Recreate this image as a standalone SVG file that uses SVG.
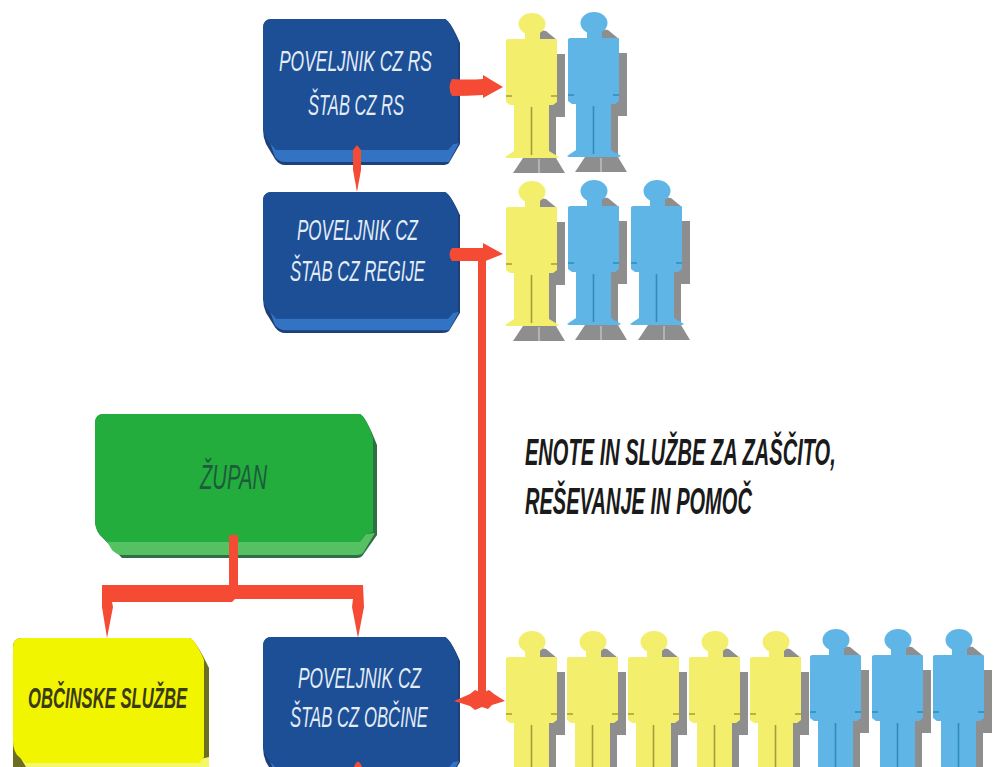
<svg xmlns="http://www.w3.org/2000/svg" width="998" height="767" viewBox="0 0 998 767">
<style>
text{font-family:"Liberation Sans",Arial,sans-serif;font-style:italic;text-anchor:start}
.w{fill:#e4ecf7;font-size:29px}
.t{fill:#1a1a1a;font-size:37px;font-weight:bold}
.b1{fill:#1c4f96}.b2{fill:#3273c4}.b3{fill:#1f3f78}
.g1{fill:#22ad3c}.g2{fill:#56c163}.g3{fill:#2f6f44}
.l1{fill:#f2f500}.l2{fill:#f4f76a}.l3{fill:#6e6e20}
.y{fill:#f3ee6c;color:#a89c3a}
.c{fill:#5fb5e6;color:#2f8db8}
.s{fill:#8e8e8e}
.m{fill:none;stroke:currentColor;stroke-width:1.6}
.v{fill:none;stroke:#d8d8d8;stroke-width:1}
.r{fill:#f54b35}
</style>
<defs>
<g id="fig">
<path class="s" d="M33,-9 L40,-8 L51,1 H34Z M45,15 H59 V78 H50 V118 H43 V15Z M17,119 H50 L59,134 H7Z"/>
<path class="v" d="M33,120 V134"/>
<path d="M0,1 L2,0 H19 V-8 H34 V0 H50 L51,1 V63 L47,66 H43 V112 L53,118 L51,119 H1 L-1,118 L8,112 V66 H4 L0,63Z"/>
<ellipse cx="26" cy="-15" rx="13.500" ry="11"/>
<path class="m" d="M0,57 H6 M45,57 H51 M25.500,68 V116"/>
</g>
<path id="boxBack" d="M272,0 H445 Q451,3 460,24 V125 L449,144 Q447,146 442,146 H285 Q279,146 275,140 L266,125 Q263,118 263,110 V9 Q263,0 272,0Z"/>
<path id="boxBevel" d="M268,118 L276,131 H448 L453,125 L459,124 L449,143 H285 Q279,143 275,138Z"/>
<path id="boxFace" d="M272,0 H445 Q451,3 458,22 V124 L453,125 L448,131 H276 L268,122 Q263,116 263,106 V9 Q263,0 272,0Z"/>
</defs>

<g id="node-rs">
<use href="#boxBack" y="19" class="b3"/><use href="#boxBevel" y="19" class="b2"/><use href="#boxFace" y="19" class="b1"/>
<text class="w" x="279" y="71" textLength="153" lengthAdjust="spacingAndGlyphs">POVELJNIK CZ  RS</text>
<text class="w" x="308" y="115" textLength="96" lengthAdjust="spacingAndGlyphs">ŠTAB CZ RS</text>
</g>
<g id="node-regija">
<g transform="translate(0,192) scale(1,.966)"><use href="#boxBack" class="b3"/><use href="#boxBevel" class="b2"/><use href="#boxFace" class="b1"/></g>
<text class="w" x="297" y="240" textLength="121" lengthAdjust="spacingAndGlyphs">POVELJNIK CZ</text>
<text class="w" x="290" y="281" textLength="135" lengthAdjust="spacingAndGlyphs">ŠTAB CZ REGIJE</text>
</g>
<g id="node-obcina">
<use href="#boxBack" y="637" class="b3"/><use href="#boxBevel" y="637" class="b2"/><use href="#boxFace" y="637" class="b1"/>
<text class="w" x="298" y="688" textLength="123" lengthAdjust="spacingAndGlyphs">POVELJNIK CZ</text>
<text class="w" x="290" y="727" textLength="138" lengthAdjust="spacingAndGlyphs">ŠTAB CZ OBČINE</text>
</g>
<g id="node-zupan">
<path class="g3" d="M104,414 H360 Q366,417 377,445 V535 L363,555 Q361,558 357,558 H122 L100,535 Q95,529 95,520 V423 Q95,414 104,414Z"/>
<path class="g2" d="M100,530 L108,541 H360 L366,534 L375,533 L363,553 Q361,555 357,555 H122 Q117,555 112,550Z"/>
<path class="g1" d="M104,414 H360 Q366,417 373,438 V532 L366,534 L360,542 H108 L100,535 Q95,529 95,520 V423 Q95,414 104,414Z"/>
<text x="200" y="489" font-size="35" fill="#1e5b3d" textLength="67" lengthAdjust="spacingAndGlyphs">ŽUPAN</text>
</g>
<g id="node-sluzbe">
<path class="l3" d="M22,638 H190 Q196,641 209,668 V767 H13 V647 Q13,638 22,638Z"/>
<path class="l2" d="M13,745 L26,767 H209 V757 L200,759 H26Z"/>
<path class="l1" d="M22,638 H190 Q196,641 204,660 V757 L199,763 H26 L17,755 Q13,749 13,741 V647 Q13,638 22,638Z"/>
<text x="28" y="708" font-size="30" font-weight="bold" fill="#3b3b12" textLength="159" lengthAdjust="spacingAndGlyphs">OBČINSKE SLUŽBE</text>
</g>

<g id="label-enote">
<text class="t" transform="translate(525,465) scale(.542,1)" x="0" y="0">ENOTE IN SLUŽBE ZA ZAŠČITO,</text>
<text class="t" transform="translate(525,514) scale(.542,1)" x="0" y="0">REŠEVANJE IN POMOČ</text>
</g>

<g id="person-1-1" class="y"><use href="#fig" x="506" y="39"/></g>
<g id="person-1-2" class="c"><use href="#fig" x="568" y="38"/></g>
<g id="person-2-1" class="y"><use href="#fig" x="506" y="207"/></g>
<g id="person-2-2" class="c"><use href="#fig" x="568" y="206"/></g>
<g id="person-2-3" class="c"><use href="#fig" x="631" y="206"/></g>
<g id="person-3-1" class="y"><use href="#fig" x="506" y="657"/></g>
<g id="person-3-2" class="y"><use href="#fig" x="567" y="657"/></g>
<g id="person-3-3" class="y"><use href="#fig" x="628" y="657"/></g>
<g id="person-3-4" class="y"><use href="#fig" x="689" y="657"/></g>
<g id="person-3-5" class="y"><use href="#fig" x="750" y="657"/></g>
<g id="person-3-6" class="c"><use href="#fig" x="810" y="655"/></g>
<g id="person-3-7" class="c"><use href="#fig" x="872" y="655"/></g>
<g id="person-3-8" class="c"><use href="#fig" x="933" y="655"/></g>

<g id="connectors">
<path class="r" d="M452,79 Q468,80 483,79 V75 L503,87 L483,98 V95 Q468,96 452,96 Q447,87 452,79Z"/>
<path class="r" d="M357,145 L361,150 V170 L357,192 L353,170 V150Z"/>
<path class="r" d="M452,248 H483 V243 L503,254 L483,262 V261 H452 Q447,254 452,248Z"/>
<rect class="r" x="478" y="255" width="8" height="440"/>
<path class="r" d="M454,701 L470,694 L475,690 L482,693 L489,690 L494,694 L505,701 L492,705 L488,709 L482,707 L475,710 L470,706Z"/>
<path class="r" d="M229,535 H238 V585 H363 L364,607 L358,638 L352,607 L353,599 H235 L232,602 H112 L113,607 L107,638 L102,607 L102,585 H229Z"/>
<path class="r" d="M354,767 Q358,756 362,767Z"/>
</g>
</svg>
